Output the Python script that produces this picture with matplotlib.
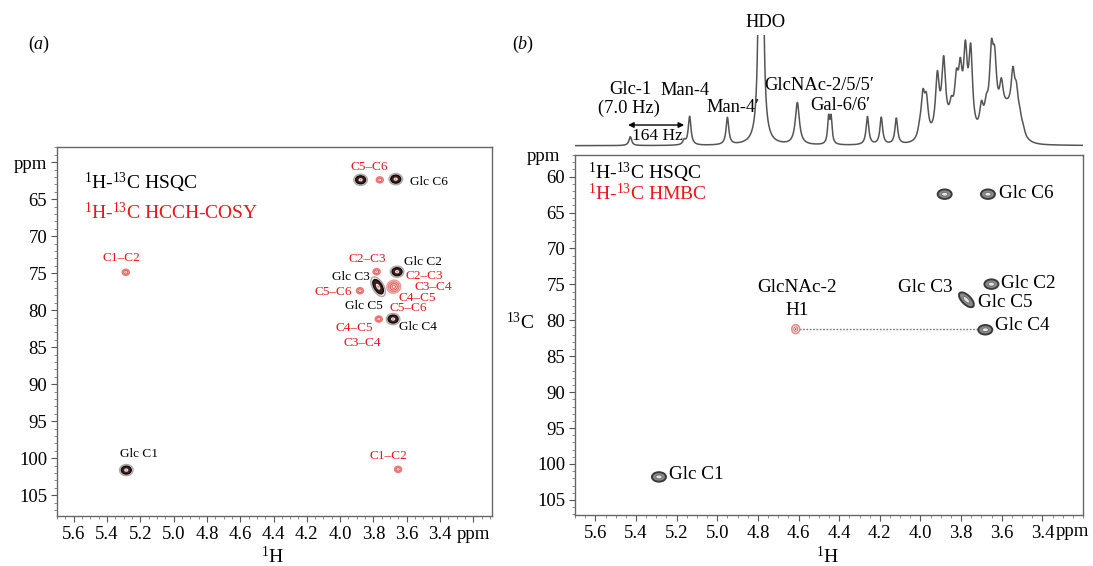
import numpy as np
import matplotlib
matplotlib.use("Agg")
import matplotlib.pyplot as plt
from matplotlib.patches import Ellipse
from matplotlib.ticker import MultipleLocator
from matplotlib.transforms import ScaledTranslation, blended_transform_factory

# ---------------- data ----------------
# panel (a): HSQC (black) and HCCH-COSY (red) cross peaks  (1H ppm, 13C ppm)
a_hsqc_h = [3.877, 3.666, 3.658, 3.682, 5.284]
a_hsqc_c = [62.39, 62.30, 74.80, 81.20, 101.60]
a_hsqc_c35 = (3.772, 76.83)          # overlapped Glc C3/C5 peak
a_cosy_h = [3.762, 5.287, 3.781, 3.881, 3.768, 3.652]
a_cosy_c = [62.40, 74.88, 74.80, 77.37, 81.20, 101.50]
a_cosy_big = (3.678, 76.83)           # overlapped C2-C3/C3-C4/C4-C5/C5-C6

# panel (b): HSQC (grey) and HMBC (red)
b_hsqc_h = [3.881, 3.668, 3.651, 3.681, 5.287]
b_hsqc_c = [62.45, 62.45, 74.97, 81.32, 101.80]
b_hsqc_c35 = (3.774, 77.15)
b_hmbc = (4.614, 81.23)

# 1D 1H spectrum: peak positions (ppm), heights (rel.), half widths (ppm)
spec_ppm = [5.428, 5.163, 5.136, 4.950, 4.785, 4.606, 4.452, 4.440, 4.261, 4.193, 4.119,
            4.004, 3.988, 3.971, 3.917, 3.886, 3.848, 3.823, 3.804, 3.779, 3.753,
            3.700, 3.676, 3.651, 3.635, 3.602, 3.545, 3.528, 3.512, 3.496]
spec_height = [0.08, 0.04, 0.26, 0.245, 30.0, 0.38, 0.23, 0.23, 0.255, 0.245, 0.235,
               0.07, 0.36, 0.31, 0.50, 0.60, 0.15, 0.36, 0.44, 0.66, 0.72,
               0.22, 0.17, 0.59, 0.47, 0.27, 0.41, 0.28, 0.12, 0.06]
spec_hwhm = [0.008, 0.008, 0.008, 0.008, 0.003, 0.012, 0.006, 0.006, 0.008, 0.008, 0.008,
             0.011, 0.011, 0.011, 0.011, 0.011, 0.011, 0.011, 0.011, 0.011, 0.011,
             0.011, 0.011, 0.011, 0.011, 0.011, 0.011, 0.011, 0.011, 0.011]
env_ppm = [3.85, 3.60, 3.57]
env_height = [0.12, 0.20, 0.10]
env_sigma = [0.06, 0.06, 0.02]

# text labels
a_labels = [("C5–C6", 3.828, 60.67, "center", "r"), ("Glc C6", 3.582, 62.62, "left", "k"),
            ("C1–C2", 5.314, 72.98, "center", "r"), ("C2–C3", 3.838, 73.12, "center", "r"),
            ("Glc C2", 3.618, 73.44, "left", "k"), ("C2–C3", 3.606, 75.34, "left", "r"),
            ("Glc C3", 3.822, 75.55, "right", "k"), ("C3–C4", 3.552, 76.83, "left", "r"),
            ("C5–C6", 3.931, 77.58, "right", "r"), ("C4–C5", 3.652, 78.40, "left", "r"),
            ("Glc C5", 3.746, 79.44, "right", "k"), ("C5–C6", 3.702, 79.75, "left", "r"),
            ("C4–C5", 3.805, 82.37, "right", "r"), ("Glc C4", 3.646, 82.24, "left", "k"),
            ("C3–C4", 3.865, 84.49, "center", "r"), ("Glc C1", 5.209, 99.37, "center", "k"),
            ("C1–C2", 3.712, 99.74, "center", "r")]
b_labels = [("Glc C6", 3.615, 62.3, "left"), ("Glc C2", 3.602, 74.83, "left"),
            ("Glc C3", 3.840, 75.4, "right"), ("Glc C5", 3.717, 77.5, "left"),
            ("Glc C4", 3.635, 80.7, "left"), ("Glc C1", 5.239, 101.5, "left"),
            ("GlcNAc-2", 4.608, 75.4, "center"), ("H1", 4.608, 78.7, "center")]
s_labels = [("HDO", 4.765, 1.11), ("Glc-1", 5.429, 0.51), ("(7.0 Hz)", 5.433, 0.338),
            ("Man-4", 5.159, 0.497), ("Man-4′", 4.921, 0.347),
            ("GlcNAc-2/5/5′", 4.498, 0.548), ("Gal-6/6′", 4.396, 0.359)]
coupling_arrow = (5.439, 5.163)

a_xticks = [5.6, 5.4, 5.2, 5.0, 4.8, 4.6, 4.4, 4.2, 4.0, 3.8, 3.6, 3.4, 3.2]
a_xticklabels = ["5.6", "5.4", "5.2", "5.0", "4.8", "4.6", "4.4", "4.2", "4.0", "3.8", "3.6", "3.4", "ppm"]
b_xticks = [5.6, 5.4, 5.2, 5.0, 4.8, 4.6, 4.4, 4.2, 4.0, 3.8, 3.6, 3.4]
b_xticklabels = ["5.6", "5.4", "5.2", "5.0", "4.8", "4.6", "4.4", "4.2", "4.0", "3.8", "3.6", "3.4"]
yticks = [60, 65, 70, 75, 80, 85, 90, 95, 100, 105]
a_yticklabels = ["ppm", "65", "70", "75", "80", "85", "90", "95", "100", "105"]
b_yticklabels = ["60", "65", "70", "75", "80", "85", "90", "95", "100", "105"]

# ---------------- style ----------------
plt.rcParams.update({
    "font.family": ["Liberation Serif", "DejaVu Serif"],
    "mathtext.fontset": "custom",
    "mathtext.rm": "Liberation Serif",
    "mathtext.it": "Liberation Serif:italic",
    "mathtext.bf": "Liberation Serif:bold",
})
RED = "#f01515"
SPINE = "#666666"

fig = plt.figure(figsize=(10.93, 5.66), dpi=100)
axA = fig.add_axes([0.05215, 0.08834, 0.3977, 0.6514])
axB = fig.add_axes([0.5261, 0.0901, 0.4648, 0.636])
axS = fig.add_axes([0.5261, 0.7314, 0.4648, 0.2067])


def blob(ax, x, y, w, h, ang, layers, z=3):
    for sw, sh, fc, ec, lw in layers:
        tr = fig.dpi_scale_trans + ScaledTranslation(x, y, ax.transData)
        ax.add_patch(Ellipse((0, 0), w * sw / 100, h * sh / 100, angle=ang, transform=tr,
                             facecolor=fc, edgecolor=ec, lw=lw, zorder=z))


dark_layers = [(1.35, 1.4, "none", "#a8a8a8", 1.0), (1.0, 1.0, "#3a2020", "#1a0808", 1.0),
               (0.42, 0.42, "#f3dede", "none", 0), (0.15, 0.15, "#c06060", "none", 0)]
red_layers = [(1.0, 1.0, "#f8caca", "#f07878", 1.1), (0.58, 0.58, "white", "#e85a5a", 0.8),
              (0.18, 0.18, "#e85a5a", "none", 0)]
grey_layers = [(1.0, 1.0, "#8a8a8a", "#3a3a3a", 1.4), (0.45, 0.40, "#e6e6e6", "#6a6a6a", 0.6)]

# ---------------- panel (a) ----------------
for x, y in zip(a_hsqc_h, a_hsqc_c):
    blob(axA, x, y, 10, 8, 0, dark_layers, z=4)
blob(axA, a_hsqc_c35[0], a_hsqc_c35[1], 16, 8, -60, dark_layers, z=4)
for x, y in zip(a_cosy_h, a_cosy_c):
    blob(axA, x, y, 7, 6, 0, red_layers)
blob(axA, a_cosy_big[0], a_cosy_big[1], 14, 13, 20,
     [(1.0, 1.0, "#fbe0e0", "#f29a9a", 1.0), (0.75, 0.75, "none", "#f07878", 1.0),
      (0.5, 0.5, "white", "#e86060", 0.9), (0.25, 0.25, "none", "#e86060", 0.8)])

for t, x, y, ha, c in a_labels:
    axA.text(x, y, t, ha=ha, va="center", fontsize=9.5, color=RED if c == "r" else "black", zorder=6)

axA.text(0.062, 0.904, r"$^{1}$H-$^{13}$C HSQC", transform=axA.transAxes, fontsize=14,
         va="center", ha="left", color="black")
axA.text(0.062, 0.823, r"$^{1}$H-$^{13}$C HCCH-COSY", transform=axA.transAxes, fontsize=14,
         va="center", ha="left", color=RED)

axA.set_xlim(5.70, 3.09)
axA.set_ylim(107.8, 58.0)
axA.set_xticks(a_xticks)
axA.set_xticklabels(a_xticklabels)
axA.set_yticks(yticks)
axA.set_yticklabels(a_yticklabels)

# ---------------- panel (b) ----------------
for x, y in zip(b_hsqc_h, b_hsqc_c):
    blob(axB, x, y, 14, 9.5, 0, grey_layers, z=4)
blob(axB, b_hsqc_c35[0], b_hsqc_c35[1], 19, 9, -45, grey_layers, z=4)
axB.plot([b_hmbc[0], b_hsqc_h[3]], [b_hmbc[1], b_hmbc[1]], ls=(0, (1.2, 1.2)),
         color="#777777", lw=1.0, zorder=2)
blob(axB, b_hmbc[0], b_hmbc[1], 8, 9,
     0, [(1.0, 1.0, "#fde8e8", "#f08a8a", 1.1), (0.5, 0.5, "white", "#e86a6a", 0.7),
         (0.2, 0.2, "#555555", "none", 0)], z=4)

for t, x, y, ha in b_labels:
    axB.text(x, y, t, ha=ha, va="center", fontsize=13.8, color="black", zorder=6)

axB.text(0.026, 0.949, r"$^{1}$H-$^{13}$C HSQC", transform=axB.transAxes, fontsize=14,
         va="center", ha="left", color="black")
axB.text(0.026, 0.892, r"$^{1}$H-$^{13}$C HMBC", transform=axB.transAxes, fontsize=14,
         va="center", ha="left", color=RED)

axB.set_xlim(5.70, 3.20)
axB.set_ylim(107.1, 57.0)
axB.set_xticks(b_xticks)
axB.set_xticklabels(b_xticklabels)
axB.set_yticks(yticks)
axB.set_yticklabels(b_yticklabels)
axB.text(3.333, -0.046, "ppm", transform=blended_transform_factory(axB.transData, axB.transAxes),
         ha="left", va="center", fontsize=13.5)
axB.text(-0.063, 0.995, "ppm", transform=axB.transAxes, ha="center", va="center", fontsize=13.5)
axB.text(-0.108, 0.536, r"$^{13}$C", transform=axB.transAxes, ha="center", va="center", fontsize=14)

for ax in (axA, axB):
    for s in ax.spines.values():
        s.set_color(SPINE)
        s.set_linewidth(1.0)
    ax.xaxis.set_minor_locator(MultipleLocator(0.05))
    ax.yaxis.set_minor_locator(MultipleLocator(1))
    ax.tick_params(which="major", direction="out", length=4, width=0.8, color="#555555",
                   labelsize=13.5, pad=3)
    ax.tick_params(which="minor", direction="out", length=2, width=0.6, color="#777777")

# ---------------- 1D spectrum ----------------
xs = np.linspace(5.70, 3.20, 4000)
ys = np.zeros_like(xs)
for p, h, w in zip(spec_ppm, spec_height, spec_hwhm):
    ys += h * w ** 2 / ((xs - p) ** 2 + w ** 2)
for p, h, s in zip(env_ppm, env_height, env_sigma):
    ys += h * np.exp(-0.5 * ((xs - p) / s) ** 2)
axS.plot(xs, ys, color="#555555", lw=1.1)
axS.set_xlim(5.70, 3.20)
axS.set_ylim(-0.057, 1.0)
axS.axis("off")
for t, x, y in s_labels:
    axS.text(x, y, t, ha="center", va="center", fontsize=13.3, clip_on=False)
axS.annotate("", xy=(coupling_arrow[1], 0.187), xytext=(coupling_arrow[0], 0.187),
             arrowprops=dict(arrowstyle="<|-|>", color="black", lw=1.0,
                             mutation_scale=8, shrinkA=0, shrinkB=0))
axS.text((coupling_arrow[0] + coupling_arrow[1]) / 2 - 0.005, 0.088, "164 Hz",
         ha="center", va="center", fontsize=12.5)

# ---------------- figure texts ----------------
fig.text(39 / 1093, 1 - 44 / 566, r"($\mathit{a}$)", ha="center", va="center", fontsize=13)
fig.text(523 / 1093, 1 - 44 / 566, r"($\mathit{b}$)", ha="center", va="center", fontsize=13)
fig.text(273 / 1093, 1 - 557 / 566, r"$^{1}$H", ha="center", va="center", fontsize=14)
fig.text(828 / 1093, 1 - 556 / 566, r"$^{1}$H", ha="center", va="center", fontsize=14)

fig.savefig("out.png", dpi=100, facecolor="white")
